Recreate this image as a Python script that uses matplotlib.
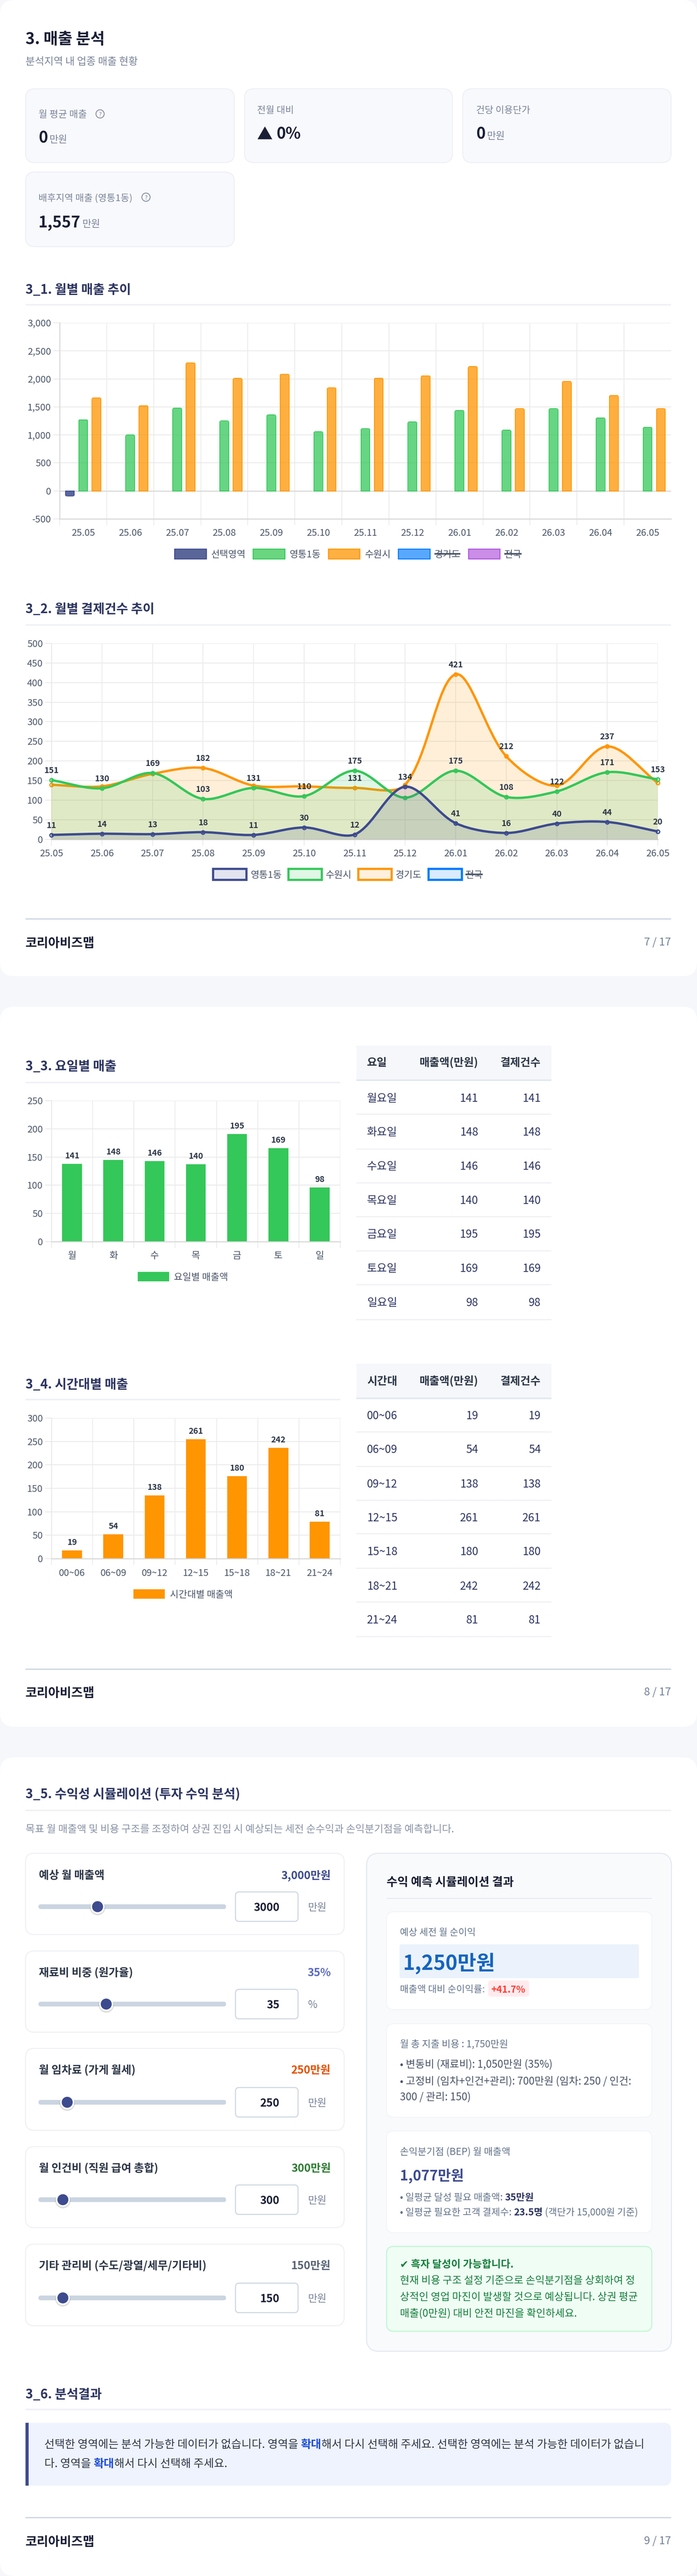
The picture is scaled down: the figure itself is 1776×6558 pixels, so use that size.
import numpy as np
import matplotlib
matplotlib.use("Agg")
import matplotlib.pyplot as plt
from matplotlib.patches import FancyBboxPatch, Rectangle, Circle, PathPatch
from matplotlib.path import Path

plt.rcParams['font.family'] = ['Noto Sans CJK KR', 'DejaVu Sans']
plt.rcParams['axes.unicode_minus'] = False

# ---------------- data ----------------
months = ['25.05','25.06','25.07','25.08','25.09','25.10','25.11','25.12','26.01','26.02','26.03','26.04','26.05']
sales_selected = [-90,np.nan,np.nan,np.nan,np.nan,np.nan,np.nan,np.nan,np.nan,np.nan,np.nan,np.nan,np.nan]
sales_yt = [1271,999,1479,1250,1357,1056,1110,1232,1436,1085,1468,1303,1135]
sales_sw = [1661,1522,2288,2009,2084,1840,2012,2055,2220,1468,1955,1704,1468]
sales_yticks = [-500,0,500,1000,1500,2000,2500,3000]
sales_legend = ['선택영역','영통1동','수원시','경기도','전국']

count_yt = [11,14,13,18,11,30,12,134,41,16,40,44,20]
count_sw = [151,130,169,103,131,110,175,106,175,108,122,171,153]
count_gg = [139,135,167,182,137,135,131,139,421,212,137,237,144]
count_sw_labelled = [0,1,2,3,4,5,6,8,9,10,11,12]
count_gg_labelled = [3,6,8,9,11]
count_yticks = [0,50,100,150,200,250,300,350,400,450,500]
count_legend = ['영통1동','수원시','경기도','전국']

days_short = ['월','화','수','목','금','토','일']
days_full = ['월요일','화요일','수요일','목요일','금요일','토요일','일요일']
day_sales = [141,148,146,140,195,169,98]
day_counts = [141,148,146,140,195,169,98]
day_bar_heights = [138,145,143,137,191,166,96]
day_yticks = [0,50,100,150,200,250]

hours = ['00~06','06~09','09~12','12~15','15~18','18~21','21~24']
hour_sales = [19,54,138,261,180,242,81]
hour_counts = [19,54,138,261,180,242,81]
hour_bar_heights = [17.6,52.3,134.5,255,175.7,236.5,78.5]
hour_yticks = [0,50,100,150,200,250,300]

slider_labels = ['예상 월 매출액','재료비 비중 (원가율)','월 임차료 (가게 월세)','월 인건비 (직원 급여 총합)','기타 관리비 (수도/광열/세무/기타비)']
slider_texts = ['3,000만원','35%','250만원','300만원','150만원']
slider_values = [3000,35,250,300,150]
slider_maxima = [10000,100,2000,3000,1500]
slider_units = ['만원','%','만원','만원','만원']
slider_colors = ['#3d4b8f','#5c6bc0','#e65100','#2e7d32','#5a6478']

NAVY='#3d4b8f'; GREEN='#34c759'; ORANGE='#ff9500'; BLUE='#007aff'; PURPLE='#af52de'
GRID='#ebebeb'; AXISC='#d9d9d9'; TICKC='#4a5568'; LABELC='#2d3748'
TITLE='#2d3561'; DARK='#1a1f36'; GRAY='#7a8499'

W,H=1776,6558
fig=plt.figure(figsize=(W/100,H/100),dpi=100,facecolor='#f5f7fb')
pg=fig.add_axes([0,0,1,1],zorder=0)
pg.set_xlim(0,W); pg.set_ylim(H,0); pg.axis('off')
fig.canvas.draw()
rend=fig.canvas.get_renderer()

def fs(p): return p*0.72

def T(x,y,s,p,color=DARK,weight='normal',ha='left',va='center',z=5):
    if va=='center': y=y+0.11*p
    return pg.text(x,y,s,fontsize=fs(p),color=color,fontweight=weight,ha=ha,va=va,zorder=z)

def width(s,p,weight='normal'):
    t=pg.text(0,0,s+'|',fontsize=fs(p),fontweight=weight)
    a=t.get_window_extent(rend).width; t.set_text('|')
    b=t.get_window_extent(rend).width; t.remove()
    return a-b

def runs(x,y,parts,p,va='center'):
    for s,c,wgt in parts:
        T(x,y,s,p,c,wgt,va=va)
        x+=width(s,p,wgt)
    return x

def RR(x0,y0,x1,y1,r,fc,ec='none',lw=0,z=1):
    pg.add_patch(FancyBboxPatch((x0,y0),x1-x0,y1-y0,boxstyle=f'round,pad=0,rounding_size={r}',
                                fc=fc,ec=ec,lw=fs(lw),zorder=z,mutation_aspect=1))
def RECT(x0,y0,x1,y1,fc,z=2,ec='none',lw=0,alpha=None):
    pg.add_patch(Rectangle((x0,y0),x1-x0,y1-y0,fc=fc,ec=ec,lw=fs(lw),zorder=z,alpha=alpha))

def section(y,text,yrule,x1=1710,p=32.5):
    T(65,y,text,p,TITLE,'bold')
    RECT(65,yrule-2,x1,yrule+2,'#f0f1f5')

def footer(yrule,ytext,page):
    RECT(65,yrule-1.5,1710,yrule+1.5,'#cbd5e1')
    T(65,ytext,'코리아비즈맵',32,DARK,'bold')
    T(1710,ytext-2,page,27.5,'#718096',ha='right')

def chart_axes(x0,y0,x1,y1):
    ax=fig.add_axes([x0/W,1-y1/H,(x1-x0)/W,(y1-y0)/H],zorder=3)
    ax.patch.set_alpha(0)
    for s in ['top','right']: ax.spines[s].set_visible(False)
    for s in ['left','bottom']:
        ax.spines[s].set_color(AXISC); ax.spines[s].set_linewidth(fs(2.6))
    ax.set_axisbelow(True)
    return ax

def style(ax,yticks,ylabels,xlabels,pad_y=6,pad_x=25,xgrid_between=True,last_edge=True):
    n=len(xlabels)
    ax.set_yticks(yticks); ax.set_yticklabels(ylabels)
    ax.tick_params(axis='y',length=fs(16),width=fs(2.4),color=GRID,labelsize=fs(24),labelcolor=TICKC,pad=fs(pad_y))
    ax.grid(axis='y',color=GRID,lw=fs(2.4),zorder=0)
    ax.set_xticks(range(n)); ax.set_xticklabels(xlabels)
    if xgrid_between:
        edges=np.arange(-0.5,n-0.49,1) if last_edge else np.arange(-0.5,n-1.49,1)
        ax.set_xticks(edges,minor=True)
        ax.set_xlim(-0.5,n-0.5)
        ax.tick_params(axis='x',which='major',length=0,labelsize=fs(24),labelcolor=TICKC,pad=fs(pad_x))
        ax.tick_params(axis='x',which='minor',length=fs(16),width=fs(2),color=GRID)
        ax.grid(axis='x',which='minor',color=GRID,lw=fs(2),zorder=0)
    else:
        ax.set_xlim(0,n-1)
        ax.tick_params(axis='x',which='major',length=fs(16),width=fs(2),color=GRID,labelsize=fs(24),labelcolor=TICKC,pad=fs(pad_x-16))
        ax.grid(axis='x',which='major',color=GRID,lw=fs(2),zorder=0)

def legend(items,y,h,p=24,lw=2.5):
    for x0,x1,fc,ec,label,lx,struck in items:
        pg.add_patch(Rectangle((x0,y-h/2),x1-x0,h,fc=fc,ec=ec,lw=fs(lw),zorder=3))
        T(lx,y,label,p,TICKC)
        if struck:
            wd=width(label,p)
            RECT(lx,y-2,lx+wd,y+2,TICKC,z=6)

# ---------------- pages ----------------
RR(0,0,W,2485,36,'white')
RR(0,2563,W,4396,36,'white')
RR(0,4474,W,H,36,'white')

# ---------------- header + KPI ----------------
T(65,96,'3. 매출 분석',40,DARK,'bold')
T(65,155,'분석지역 내 업종 매출 현황',26,GRAY)

def kpi(x0,y0,x1,y1): RR(x0,y0,x1,y1,24,'#f8f9fd','#eef0f5',2.5)
def help_icon(x,y):
    pg.add_patch(Circle((x,y),10.5,fc='none',ec=GRAY,lw=fs(2),zorder=5))
    T(x,y,'?',15,GRAY,ha='center')
kpi(65,226,597,414); kpi(623,226,1153,414); kpi(1179,226,1710,414); kpi(65,438,597,628)
T(98,289,'월 평균 매출',24.5,GRAY); help_icon(255,290)
runs(98,363,[('0',DARK,'bold')],40,va='baseline'); T(126,363,'만원',25,GRAY,va='baseline')
T(655,279,'전월 대비',24,GRAY)
T(655,354,'▲',40,DARK,'bold',va='baseline'); T(704,354,'0%',40,DARK,'bold',va='baseline')
T(1213,279,'건당 이용단가',24,GRAY)
T(1213,354,'0',40,DARK,'bold',va='baseline'); T(1241,354,'만원',25,GRAY,va='baseline')
T(98,501,'배후지역 매출 (영통1동)',24,GRAY); help_icon(372,502)
T(98,578,'1,557',40,DARK,'bold',va='baseline'); T(210,578,'만원',25,GRAY,va='baseline')

# ---------------- 3_1 grouped bars ----------------
section(735,'3_1. 월별 매출 추이',775.5)
ax1=chart_axes(152,822,1710,1321)
ax1.set_ylim(-500,3000)
style(ax1,sales_yticks,[f'{v:,}' for v in sales_yticks],months,last_edge=False)
ax1.axhline(0,color=AXISC,lw=fs(2.6),zorder=0.6)
x_idx=np.arange(len(months))
def rounded_clip(ax,bar,rpx=6):
    x,y,w,h=bar.get_x(),bar.get_y(),bar.get_width(),bar.get_height()
    if not h or np.isnan(h): return
    ux=1/119.85; uy=3500/499
    rx=rpx*ux; ry=rpx*uy
    pad=1.2*ux
    if h>0:
        y0,y1=y-30,y+h+1.2*uy
        verts=[(x-pad,y0),(x+w+pad,y0),(x+w+pad,y1-ry),(x+w+pad,y1),(x+w+pad-rx,y1),(x-pad+rx,y1),(x-pad,y1),(x-pad,y1-ry),(x-pad,y0)]
    else:
        y0,y1=y+30,y+h-1.2*uy
        verts=[(x-pad,y0),(x+w+pad,y0),(x+w+pad,y1+ry),(x+w+pad,y1),(x+w+pad-rx,y1),(x-pad+rx,y1),(x-pad,y1),(x-pad,y1+ry),(x-pad,y0)]
    codes=[Path.MOVETO,Path.LINETO,Path.LINETO,Path.CURVE3,Path.CURVE3,Path.LINETO,Path.CURVE3,Path.CURVE3,Path.CLOSEPOLY]
    bar.set_clip_path(Path(verts,codes),ax.transData)
for off,vals,c in [(-0.283,sales_selected,NAVY),(0,sales_yt,GREEN),(0.283,sales_sw,ORANGE)]:
    bars=ax1.bar(x_idx+off,vals,width=0.19,facecolor=matplotlib.colors.to_rgba(c,0.75 if c!=NAVY else 0.85),
                 edgecolor=c,linewidth=fs(2),zorder=2)
    for b in bars: rounded_clip(ax1,b)
legend([(445,526,'#5a6699',NAVY,sales_legend[0],538,False),
        (645,726,'#6ad680',GREEN,sales_legend[1],737,False),
        (837,917,'#ffb040',ORANGE,sales_legend[2],930,False),
        (1015,1096,'#59a8ff',BLUE,sales_legend[3],1107,True),
        (1194,1274,'#cb8de8',PURPLE,sales_legend[4],1285,True)],1410,25)

# ---------------- 3_2 line chart ----------------
section(1548,'3_2. 월별 결제건수 추이',1591)
ax2=chart_axes(131,1638,1676,2136.5)
ax2.set_ylim(0,500)
style(ax2,count_yticks,[str(v) for v in count_yticks],months,xgrid_between=False)
ax2.spines['bottom'].set_color('#d2d2d2')
ax2.spines['left'].set_color(GRID)

def spline_path(ax,xs,ys,t=0.32):
    P=ax.transData.transform(np.column_stack([xs,ys]))
    n=len(P); verts=[P[0]]; codes=[Path.MOVETO]
    cn=[]; cp=[]
    for i in range(n):
        prev=P[max(i-1,0)]; cur=P[i]; nxt=P[min(i+1,n-1)]
        d1=np.hypot(*(cur-prev)); d2=np.hypot(*(nxt-cur))
        s1=d1/(d1+d2); s2=d2/(d1+d2)
        cp.append(cur-t*s1*(nxt-prev)); cn.append(cur+t*s2*(nxt-prev))
    for i in range(n-1):
        verts+= [cn[i],cp[i+1],P[i+1]]
        codes+= [Path.CURVE4]*3
    D=ax.transData.inverted().transform(np.array(verts))
    D[:,1]=np.clip(D[:,1],0,500)
    return D,codes

def line_series(ax,ys,color,z,labelled):
    xs=np.arange(len(ys))
    D,codes=spline_path(ax,xs,ys)
    fill_v=np.vstack([D,[[xs[-1],0],[xs[0],0],[xs[0],ys[0]]]])
    fill_c=codes+[Path.LINETO,Path.LINETO,Path.CLOSEPOLY]
    ax.add_patch(PathPatch(Path(fill_v,fill_c),fc=matplotlib.colors.to_rgba(color,0.15),ec='none',zorder=z))
    ax.add_patch(PathPatch(Path(D,codes),fc='none',ec=color,lw=fs(6),zorder=z+0.1,clip_on=False,capstyle='butt',joinstyle='round'))
    ax.plot(xs,ys,ls='none',marker='o',ms=fs(9),mfc=matplotlib.colors.to_rgba(color,0.15),mec=color,mew=fs(3),zorder=z+0.2,clip_on=False)
    for i in labelled:
        ax.annotate(str(ys[i]),(xs[i],ys[i]),xytext=(0,fs(24.5)),textcoords='offset points',ha='center',va='center',
                    fontsize=fs(21),fontweight='bold',color=LABELC,zorder=20,annotation_clip=False)

line_series(ax2,count_gg,ORANGE,3,count_gg_labelled)
line_series(ax2,count_sw,GREEN,4,count_sw_labelled)
line_series(ax2,count_yt,NAVY,5,range(len(count_yt)))
legend([(543,628,'#e2e4f0',NAVY,count_legend[0],638,False),
        (735,820,'#e0f7e5',GREEN,count_legend[1],830,False),
        (913,998,'#fff0dd',ORANGE,count_legend[2],1008,False),
        (1092,1177,'#d9ebff',BLUE,count_legend[3],1186,True)],2226,28,lw=5.5)
footer(2339,2398,'7 / 17')

# ---------------- 3_3 / 3_4 ----------------
def vbar(ax,heights,labels,color):
    bars=ax.bar(range(len(heights)),heights,width=0.48,color=color,zorder=2)
    for b,l in zip(bars,labels):
        ax.annotate(str(l),(b.get_x()+b.get_width()/2,b.get_height()),xytext=(0,fs(20.5)),textcoords='offset points',
                    ha='center',va='center',fontsize=fs(21),fontweight='bold',color=LABELC,zorder=10)

def table(header,rows,hy0,hy1,hc,row_lines,row_centers):
    RECT(908,hy0,1405,hy1,'#f5f7fb')
    RECT(908,hy1-2,1405,hy1+2,'#e2e8f0',z=3)
    T(935,hc,header[0],28,'#2d3748','bold')
    T(1218.5,hc,header[1],28,'#2d3748','bold',ha='right')
    T(1378,hc,header[2],28,'#2d3748','bold',ha='right')
    for y in row_lines: RECT(908,y-1.5,1405,y+1.5,'#f0f1f5')
    for (a,b,c),y in zip(rows,row_centers):
        T(935,y,a,28,TITLE); T(1218.5,y,str(b),28,TITLE,ha='right'); T(1378,y,str(c),28,TITLE,ha='right')

section(2712,'3_3. 요일별 매출',2755.6,x1=867)
ax3=chart_axes(131,2802,867,3161)
ax3.set_ylim(0,250)
style(ax3,day_yticks,[str(v) for v in day_yticks],days_short)
vbar(ax3,day_bar_heights,day_sales,GREEN)
ax3.spines['left'].set_color(GRID)
RECT(351,3238,431,3262,GREEN); T(443,3250,'요일별 매출액',24,TICKC)
table(['요일','매출액(만원)','결제건수'],list(zip(days_full,day_sales,day_counts)),2662,2750,2703,
      [2836.5,2925,3011,3097,3184,3270.5,3359],[2794,2880,2967,3053.5,3140,3227,3313.5])

section(3522,'3_4. 시간대별 매출',3563,x1=867)
ax4=chart_axes(131,3610,867,3968)
ax4.set_ylim(0,300)
style(ax4,hour_yticks,[str(v) for v in hour_yticks],hours,pad_x=26)
vbar(ax4,hour_bar_heights,hour_sales,ORANGE)
ax4.spines['left'].set_color(GRID)
RECT(340,4046,420,4070,ORANGE); T(433,4058,'시간대별 매출액',24,TICKC)
table(['시간대','매출액(만원)','결제건수'],list(zip(hours,hour_sales,hour_counts)),3472,3559.5,3513.5,
      [3645,3733,3819,3904.5,3992.5,4078.6,4166.6],[3602,3688,3776,3862,3948,4036,4122])
footer(4249,4307,'8 / 17')

# ---------------- 3_5 simulation ----------------
section(4565,'3_5. 수익성 시뮬레이션 (투자 수익 분석)',4609)
T(65,4655,'목표 월 매출액 및 비용 구조를 조정하여 상권 진입 시 예상되는 세전 순수익과 손익분기점을 예측합니다.',26,'#8a94a6')
card_tops=[4718,4967,5215,5465,5713]; card_bots=[4925,5173.5,5423.5,5671,5921]
title_ys=[4772,5020,5268,5518,5766]; track_ys=[4854,5102,5352,5600,5850]
for i in range(5):
    RR(65,card_tops[i],877,card_bots[i],22,'white','#eef0f5',2.5)
    T(99,title_ys[i],slider_labels[i],28,'#2d3748','bold')
    T(843,title_ys[i],slider_texts[i],28,slider_colors[i],'bold',ha='right')
    ty=track_ys[i]
    RR(98,ty-6,576,ty+6,6,'#cbd5e1',z=2)
    tx=116+442*slider_values[i]/slider_maxima[i]
    pg.add_patch(Circle((tx,ty+2.5),19.5,fc='black',alpha=0.13,ec='none',zorder=2.6))
    pg.add_patch(Circle((tx,ty),18,fc='white',ec='none',zorder=3))
    pg.add_patch(Circle((tx,ty),14,fc=NAVY,ec='none',zorder=4))
    RR(600,ty-37.5,759.5,ty+37.5,9,'white','#cbd5e1',2.5,z=2)
    T(712,ty,str(slider_values[i]),28,DARK,'bold',ha='right')
    T(785,ty,slider_units[i],26,'#7a8499')

RR(934,4718,1711,5986,32,'#f8fafc','#e2e8f0',2.5)
T(985,4789,'수익 예측 시뮬레이션 결과',30,DARK,'bold')
RECT(985,4832,1661,4834,'#e2e8f0')
for y0,y1 in [(4867,5116),(5152,5390),(5425,5684)]:
    RR(985,y0,1661,y1,18,'white','#f1f3f7',2)
T(1019,4918,'예상 세전 월 순이익',24,'#64748b')
RR(1018,4950,1628,5036,5,'#ebf2fb',z=2)
T(1027,4993,'1,250만원',52,'#1565c0','bold')
T(1019,5062.5,'매출액 대비 순이익률:',24,'#64748b')
RR(1244,5042,1348,5083,7,'#ffebee',z=2)
T(1251,5063,'+41.7%',24,'#ff3b30','bold')
T(1019,5203,'월 총 지출 비용 : 1,750만원',24.5,'#64748b')
T(1019,5253.5,'• 변동비 (재료비): 1,050만원 (35%)',26.4,'#4a5568')
T(1019,5296,'• 고정비 (임차+인건+관리): 700만원 (임차: 250 / 인건:',26.4,'#4a5568')
T(1019,5336,'300 / 관리: 150)',26.4,'#4a5568')
T(1019,5476,'손익분기점 (BEP) 월 매출액',24.4,'#64748b')
T(1019,5536,'1,077만원',36,NAVY,'bold')
runs(1019,5592,[('• 일평균 달성 필요 매출액: ','#64748b','normal'),('35만원',TITLE,'bold')],24.4)
runs(1019,5630,[('• 일평균 필요한 고객 결제수: ','#64748b','normal'),('23.5명',TITLE,'bold'),(' (객단가 15,000원 기준)','#64748b','normal')],24.4)
RR(985,5719,1661,5935,18,'#f0fdf4','#bbf7d0',2.5)
T(1019,5763,'✔ 흑자 달성이 가능합니다.',26.2,'#15803d','bold')
for y,s in zip([5803.6,5845.5,5887],['현재 비용 구조 설정 기준으로 손익분기점을 상회하여 정','상적인 영업 마진이 발생할 것으로 예상됩니다. 상권 평균','매출(0만원) 대비 안전 마진을 확인하세요.']):
    T(1019,y,s,26.4,'#15803d')

# ---------------- 3_6 ----------------
section(6093,'3_6. 분석결과',6134)
RR(65,6168,1710,6328,18,'#eff3fd')
RECT(65,6168,95,6328,'#eff3fd')
RECT(65,6168,73,6328,NAVY,z=3)
BLUEB='#1d4ed8'
runs(113,6221,[('선택한 영역에는 분석 가능한 데이터가 없습니다. 영역을 ',LABELC,'normal'),('확대',BLUEB,'bold'),
     ('해서 다시 선택해 주세요. 선택한 영역에는 분석 가능한 데이터가 없습니',LABELC,'normal')],28.4)
runs(113,6270,[('다. 영역을 ',LABELC,'normal'),('확대',BLUEB,'bold'),('해서 다시 선택해 주세요.',LABELC,'normal')],28.4)
footer(6409,6468,'9 / 17')

fig.savefig('out.png',dpi=100,facecolor=fig.get_facecolor())
